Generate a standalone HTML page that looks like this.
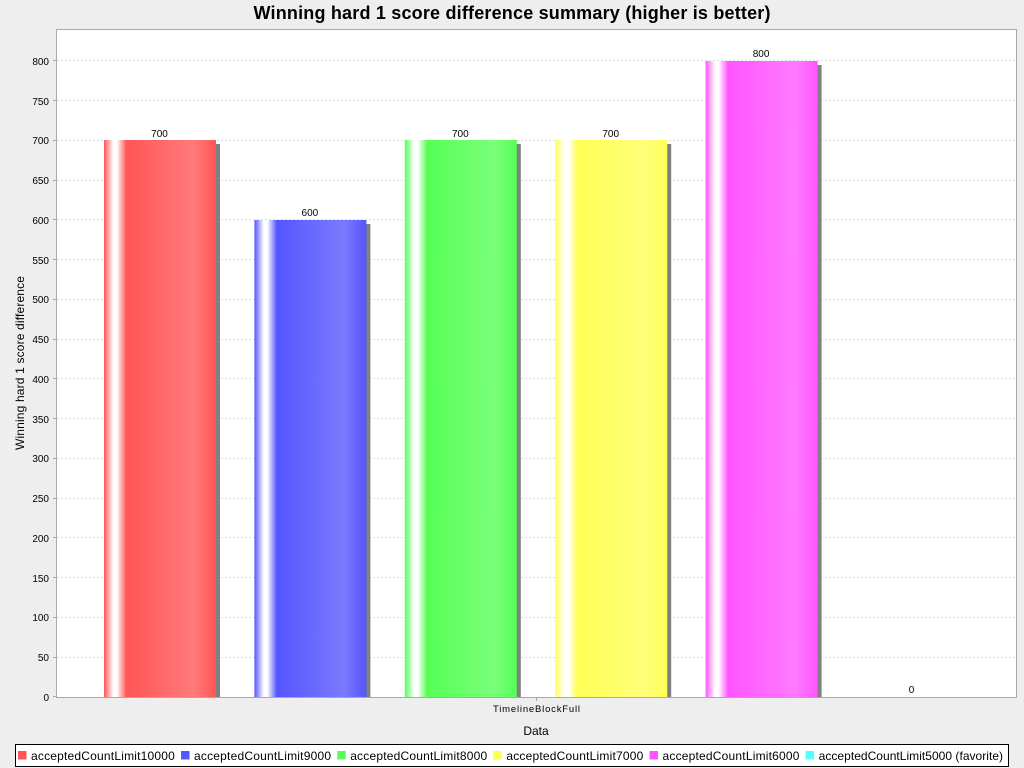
<!DOCTYPE html>
<html lang="en">
<head>
<meta charset="utf-8">
<title>Winning hard 1 score difference summary</title>
<style>
html,body{margin:0;padding:0;background:#eeeeee;width:1024px;height:768px;overflow:hidden}
svg{display:block;font-family:"Liberation Sans",Arial,sans-serif}
</style>
</head>
<body>
<svg id="chart" width="1024" height="768" viewBox="0 0 1024 768" xmlns="http://www.w3.org/2000/svg">
  <defs id="defs"></defs>
  <rect width="1024" height="768" fill="#eeeeee"></rect>
  <text x="512" y="19" text-anchor="middle" font-size="18" font-weight="bold" fill="#000" textLength="517" lengthAdjust="spacing">Winning hard 1 score difference summary (higher is better)</text>
  <rect x="56.5" y="29.5" width="960" height="668" fill="#ffffff"></rect>
  <g id="grid"></g>
  <g id="bars"></g>
  <rect x="56.5" y="29.5" width="960" height="668" fill="none" stroke="#a9a9a9" stroke-width="1"></rect>
  <g id="yaxis"></g>
  <text transform="translate(24,363) rotate(-90)" text-anchor="middle" font-size="12" fill="#000" textLength="174" lengthAdjust="spacing">Winning hard 1 score difference</text>
  <line x1="536.5" y1="698" x2="536.5" y2="701" stroke="#a9a9a9"></line>
  <text id="catlabel" x="536.5" y="712" text-anchor="middle" font-size="9.5" fill="#000" textLength="87" lengthAdjust="spacing"></text>
  <text x="536" y="735" text-anchor="middle" font-size="12" fill="#000">Data</text>
  <rect x="15.5" y="744.5" width="993" height="22" fill="#ffffff" stroke="#000000" stroke-width="1"></rect>
  <g id="legend"></g>
</svg>
<script>
const categories = ["TimelineBlockFull"];
const seriesNames = ["acceptedCountLimit10000", "acceptedCountLimit9000", "acceptedCountLimit8000", "acceptedCountLimit7000", "acceptedCountLimit6000", "acceptedCountLimit5000 (favorite)"];
const seriesValues = [700, 600, 700, 700, 800, 0];
const yTicks = [0, 50, 100, 150, 200, 250, 300, 350, 400, 450, 500, 550, 600, 650, 700, 750, 800];
const seriesColors = ["#ff5555", "#5555ff", "#55ff55", "#ffff55", "#ff55ff", "#55ffff"];
const seriesLight = ["#ff7a7a", "#7a7aff", "#7aff7a", "#ffff7a", "#ff7aff", "#7affff"];

const NS = "http://www.w3.org/2000/svg";
const yBase = 697, yPerUnit = 0.795;
const groupLeft = 104, barStep = 150.4, barWidth = 112;
function yScale(v) { return yBase - v * yPerUnit; }
function xScale(i) { return groupLeft + i * barStep; }
function make(tag, attrs, parent) {
  const el = document.createElementNS(NS, tag);
  for (const k in attrs) el.setAttribute(k, attrs[k]);
  parent.appendChild(el);
  return el;
}

document.getElementById("catlabel").textContent = categories[0];

const grid = document.getElementById("grid");
const yaxis = document.getElementById("yaxis");
yTicks.forEach(function (t) {
  const y = Math.floor(yScale(t) - 0.01) + 0.5;
  if (t !== 0) {
    const g = make("line", { x1: 57, x2: 1016, y1: y, y2: y, stroke: "#dedede", "stroke-width": 1, "stroke-dasharray": "2 2" }, grid);
    
    
  }
  const tick = make("line", { x1: 53, x2: 56, y1: y, y2: y, stroke: "#a9a9a9" }, yaxis);
  
  
  const lab = make("text", { x: 49, y: Math.round(yScale(t) + 3.75), "text-anchor": "end", "font-size": 10, fill: "#000" }, yaxis);
  
  
  lab.textContent = String(t);
});

const defs = document.getElementById("defs");
const bars = document.getElementById("bars");
seriesValues.forEach(function (v, i) {
  const grad = make("linearGradient", { id: "grad" + i, x1: 0, x2: 1, y1: 0, y2: 0 }, defs);
  make("stop", { offset: "0", "stop-color": seriesColors[i] }, grad);
  make("stop", { offset: "0.085", "stop-color": "#ffffff" }, grad);
  make("stop", { offset: "0.115", "stop-color": "#ffffff" }, grad);
  make("stop", { offset: "0.2", "stop-color": seriesColors[i] }, grad);
  make("stop", { offset: "0.8", "stop-color": seriesLight[i] }, grad);
  make("stop", { offset: "1", "stop-color": seriesColors[i] }, grad);

  const x = xScale(i), top = Math.floor(yScale(v)), h = 698 - top;
  if (v > 0) {
    const shadow = make("rect", { x: x + 4, y: top + 4, width: barWidth, height: Math.max(0, h - 5), fill: "#808080" }, bars);
    
    
    const bar = make("rect", { x: x, y: top, width: barWidth, height: h - 1, fill: "url(#grad" + i + ")" }, bars);
    
    
  }
  const lab = make("text", { x: x + barWidth / 2 - 0.5, y: Math.round(yScale(v) - 3.6), "text-anchor": "middle", "font-size": 10, fill: "#000" }, bars);
  
  
  lab.textContent = String(v);
});

const legend = document.getElementById("legend");
let cursor = 18;
seriesNames.forEach(function (name, i) {
  const sw = make("rect", { x: cursor, y: 751, width: 8.5, height: 8.5, fill: seriesColors[i] }, legend);
  
  
  const spacing = name.indexOf("(") >= 0 ? "0.03" : "0.2";
  const t = make("text", { x: cursor + 13, y: 760, "font-size": 12, fill: "#000", "letter-spacing": spacing }, legend);
  
  
  t.textContent = name;
  cursor += 13 + t.getComputedTextLength() + 6;
});
</script>
</body>
</html>
